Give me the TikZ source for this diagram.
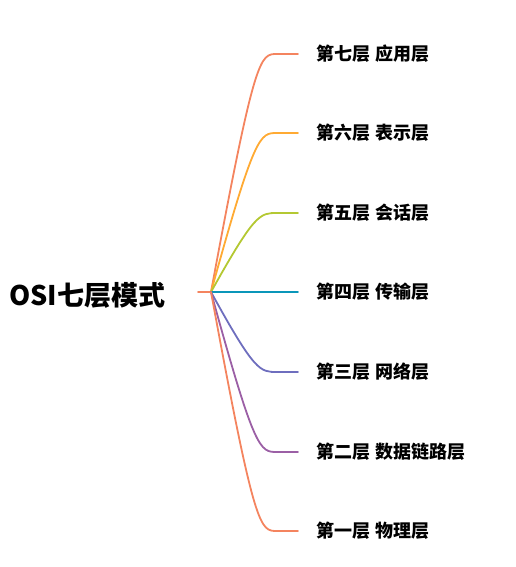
\documentclass[tikz,border=0pt]{standalone}
\usepackage{fontspec}
\setmainfont{Noto Sans CJK SC}
\usetikzlibrary{positioning}
\definecolor{coral}{HTML}{F4845F}
\definecolor{amber}{HTML}{FFAA33}
\definecolor{lime}{HTML}{B4C832}
\definecolor{teal}{HTML}{0A96B9}
\definecolor{slate}{HTML}{6E6EBE}
\definecolor{plum}{HTML}{9B5FA5}

\begin{document}
\begin{tikzpicture}[x=1pt, y=-1pt,
  root/.style={font=\bfseries\fontsize{27}{27}\selectfont, inner sep=0pt},
  layer/.style={anchor=west, font=\bfseries\fontsize{18}{18}\selectfont, inner sep=0pt},
  branch/.style={line width=1.8pt, line cap=round}]
  \useasboundingbox (0,0) rectangle (516,567);
  \node[root, anchor=west] (root) at (9,295) {OSI七层模式};
  \coordinate (stem) at (198,292);
  \coordinate (hub) at (211,292);
  \draw[branch, coral] (stem) -- (hub);
  \foreach \i/\y/\c/\a/\b in {7/54/coral/第七层/应用层, 6/133/amber/第六层/表示层,
      5/213/lime/第五层/会话层, 4/292/teal/第四层/传输层, 3/372/slate/第三层/网络层,
      2/452/plum/第二层/数据链路层, 1/531/coral/第一层/物理层}
  {
    \node[layer] (l\i) at (316,\y) {\a\hspace{5pt}\b};
    \coordinate (b\i) at (277,\y);
    \coordinate (e\i) at (298,\y);
    \draw[branch, \c] (hub) .. controls (255,\y) and (260,\y) .. (b\i) -- (e\i);
  }
%  \draw[help lines] (0,0) grid[step=50] (516,567);
\end{tikzpicture}
\end{document}
